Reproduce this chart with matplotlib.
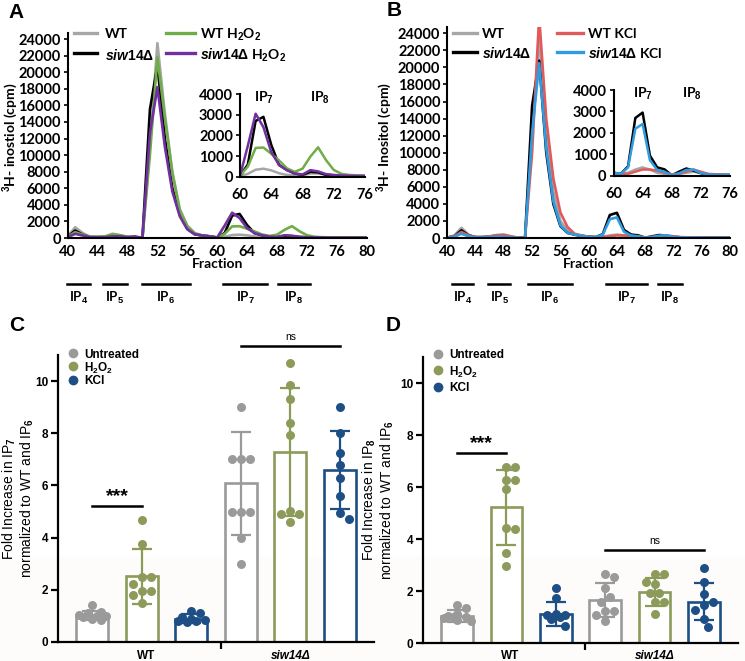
import numpy as np
import matplotlib.pyplot as plt
from matplotlib.lines import Line2D
from matplotlib.patches import Rectangle
from matplotlib import transforms

plt.rcParams['mathtext.fontset'] = 'custom'
plt.rcParams['mathtext.rm'] = 'Liberation Sans:bold'
plt.rcParams['mathtext.bf'] = 'Liberation Sans:bold'
plt.rcParams['mathtext.it'] = 'Liberation Sans:italic:bold'

W, H = 745, 661
AB_FONT = ['Lato', 'DejaVu Sans']
CD_FONT = ['Liberation Sans', 'DejaVu Sans']

# ---------------- data: HPLC profiles (fractions 40..80) ----------------
fractions = np.arange(40, 81)

a_wt = [200, 1300, 600, 150, 100, 150, 400, 300, 100, 100, 0, 11000, 23500, 15000, 8000, 3500, 1500, 600, 300, 200,
        60, 150, 350, 400, 320, 180, 100, 80, 80, 170, 170, 120, 80, 60, 60, 50, 50, 40, 40, 30, 30]
a_siw = [150, 900, 400, 100, 100, 100, 300, 250, 100, 100, 0, 15500, 20800, 12000, 6000, 2800, 1100, 450, 300, 200,
         60, 600, 2700, 2900, 1550, 580, 340, 170, 100, 250, 220, 100, 80, 60, 50, 50, 40, 40, 30, 30, 30]
a_wt_h2o2 = [150, 700, 400, 150, 150, 200, 500, 350, 150, 100, 0, 10000, 21800, 14500, 7800, 3300, 1400, 550, 300, 200,
             60, 500, 1400, 1420, 1120, 800, 420, 250, 400, 980, 1430, 820, 340, 150, 100, 80, 70, 60, 50, 40, 40]
a_siw_h2o2 = [100, 500, 300, 100, 100, 100, 200, 200, 100, 200, 0, 12600, 18200, 11000, 5600, 2600, 1050, 450, 300, 200,
              60, 1500, 3050, 2400, 1200, 580, 330, 170, 120, 330, 270, 140, 100, 70, 60, 50, 50, 40, 40, 30, 30]

b_wt = [50, 300, 1200, 400, 100, 100, 150, 250, 200, 100, 50, 0, 12000, 23500, 12000, 5500, 2000, 900, 400, 250,
        150, 100, 150, 300, 400, 300, 150, 100, 60, 100, 150, 200, 150, 80, 60, 50, 50, 40, 40, 30, 30]
b_siw = [50, 200, 900, 300, 100, 100, 150, 300, 150, 100, 50, 0, 15500, 20800, 10000, 4000, 1400, 600, 400, 250,
         150, 100, 450, 2700, 2950, 950, 400, 310, 30, 200, 350, 250, 130, 80, 60, 50, 50, 40, 40, 30, 30]
b_wt_kcl = [50, 200, 700, 300, 100, 100, 200, 350, 400, 200, 50, 0, 10000, 26000, 14000, 7000, 3000, 1300, 500, 300,
            150, 100, 100, 200, 300, 300, 250, 150, 80, 100, 200, 300, 200, 100, 80, 60, 50, 40, 40, 30, 30]
b_siw_kcl = [50, 150, 500, 200, 100, 100, 100, 200, 150, 100, 50, 0, 12300, 20500, 10500, 4300, 1500, 600, 400, 250,
             150, 100, 400, 2200, 2420, 740, 280, 200, 30, 130, 280, 300, 130, 80, 60, 50, 50, 40, 40, 30, 30]

# ---------------- data: bar charts ----------------
treatments = ['Untreated', 'H$_2$O$_2$', 'KCl']
strains = ['WT', 'siw14Δ']
bar_colors = ['#9a9a9a', '#8c9b5a', '#1d4f86']

ip7_means = [1.02, 2.52, 0.90, 6.08, 7.27, 6.59]
ip7_sd = [0.17, 1.05, 0.18, 1.97, 2.45, 1.50]
ip7_points = [
    [1.43, 1.15, 1.10, 1.05, 1.00, 1.00, 0.95, 0.90, 0.85],
    [4.67, 3.75, 2.49, 2.49, 2.22, 1.95, 1.95, 1.80, 1.49],
    [1.20, 1.10, 0.95, 0.90, 0.85, 0.80, 0.80, 0.75],
    [9.00, 7.00, 7.00, 7.00, 5.00, 5.00, 5.00, 4.00, 3.00],
    [10.68, 9.84, 9.30, 8.40, 7.93, 5.03, 4.90, 4.90, 4.61],
    [9.00, 8.00, 7.25, 6.80, 6.30, 5.60, 4.95, 4.70],
]
ip8_means = [1.04, 5.22, 1.13, 1.65, 1.97, 1.59]
ip8_sd = [0.23, 1.44, 0.46, 0.64, 0.54, 0.71]
ip8_points = [
    [1.45, 1.35, 1.10, 1.05, 1.00, 1.00, 0.95, 0.90, 0.85],
    [6.78, 6.78, 6.27, 6.27, 5.91, 4.44, 4.37, 3.47, 2.96],
    [2.13, 1.72, 1.10, 1.08, 1.08, 1.00, 0.91, 0.67],
    [2.65, 2.53, 2.10, 1.76, 1.59, 1.24, 1.24, 1.08, 0.85],
    [2.65, 2.65, 2.36, 2.26, 1.94, 1.94, 1.59, 1.59, 1.12],
    [2.87, 2.33, 1.88, 1.59, 1.46, 1.27, 0.91, 0.60],
]


def rect(l, t, r, b):
    return [l / W, 1 - b / H, (r - l) / W, (b - t) / H]


def fy(py):
    return 1 - py / H


fig = plt.figure(figsize=(7.45, 6.61), dpi=100)
# faint warm tint at the bottom of the original scan
fig.add_artist(Rectangle((0, 0), 1, fy(557), transform=fig.transFigure, color='#fdfcfa', zorder=-10))


def style_chrom(ax):
    for s in ['top', 'right']:
        ax.spines[s].set_visible(False)
    for s in ['left', 'bottom']:
        ax.spines[s].set_linewidth(1.5)
    ax.tick_params(axis='y', length=3, width=1.2, pad=2)
    ax.tick_params(axis='x', length=0, pad=5)
    for lab in ax.get_xticklabels() + ax.get_yticklabels():
        lab.set_family(AB_FONT)
        lab.set_weight('bold')
        lab.set_size(10.5)
    ax.set_facecolor('none')


def chrom_panel(main_rect, inset_rect, series, colors, ip_ranges, ip_inset_x):
    ax = fig.add_axes(main_rect)
    for ys, c in zip(series, colors):
        ax.plot(fractions, ys, color=c, lw=1.9, solid_joinstyle='round')
    ax.set_xlim(40, 80)
    ax.set_ylim(0, 24700)
    ax.set_xticks(range(40, 81, 4))
    ax.set_yticks(range(0, 24001, 2000))
    style_chrom(ax)
    ax.set_xlabel('Fraction', family=AB_FONT, weight='bold', size=10, labelpad=-1)

    ins = fig.add_axes(inset_rect)
    for ys, c in zip(series, colors):
        ins.plot(fractions, ys, color=c, lw=1.8)
    ins.set_xlim(60, 76)
    ins.set_ylim(0, 4000)
    ins.set_xticks(range(60, 77, 4))
    ins.set_yticks(range(0, 4001, 1000))
    style_chrom(ins)
    ins.tick_params(axis='x', pad=8)
    for lab, xx in zip(['IP$_7$', 'IP$_8$'], ip_inset_x):
        ins.text(xx, 3800, lab, ha='center', va='center', family=AB_FONT, weight='bold', size=10)

    # fraction ranges below the axis
    tr = transforms.blended_transform_factory(ax.transData, fig.transFigure)
    for (x0, x1), n in zip(ip_ranges, [4, 5, 6, 7, 8]):
        ax.add_line(Line2D([x0, x1], [fy(284), fy(284)], transform=tr, color='black', lw=1.8, clip_on=False))
        ax.text((x0 + x1) / 2, fy(298), 'IP$_%d$' % n, transform=tr, ha='center', va='center',
                family=AB_FONT, weight='bold', size=9.5)
    return ax


def chrom_legend(labels, colors, xl, xt, rows):
    for i, (lab, c) in enumerate(zip(labels, colors)):
        col, row = divmod(i, 2)
        y = fy(rows[row])
        fig.add_artist(Line2D([xl[col][0] / W, xl[col][1] / W], [y, y], color=c, lw=2.4))
        fig.text(xt[col] / W, y, lab, ha='left', va='center_baseline', family=AB_FONT, weight='bold', size=10)


# Panel A
colors_a = ['#a6a6a6', 'black', '#70ad47', '#7030a0']
chrom_panel(rect(67.7, 33.2, 366.7, 238), rect(240, 94, 365, 177),
            [a_wt, a_siw, a_wt_h2o2, a_siw_h2o2], colors_a,
            [(39.9, 43.0), (44.7, 47.9), (49.9, 56.4), (60.8, 66.7), (68.1, 72.4)], [63, 70.2])
fig.text(10 / W, fy(137), '$^3$H- inostiol (cpm)', rotation=90, ha='center', va='center',
         family=AB_FONT, weight='bold', size=10)
chrom_legend(['WT', r'$\mathit{siw14\Delta}$', 'WT H$_2$O$_2$', r'$\mathit{siw14\Delta}$ H$_2$O$_2$'],
             colors_a, [(74, 97), (166, 195)], [105, 200], [33, 53])

# Panel B
colors_b = ['#a6a6a6', 'black', '#e05a5a', '#2f9be0']
chrom_panel(rect(447.3, 27.3, 730, 238), rect(613.5, 90, 730, 176),
            [b_wt, b_siw, b_wt_kcl, b_siw_kcl], colors_b,
            [(40.7, 43.6), (45.8, 48.9), (51.4, 57.6), (62.4, 68.2), (69.8, 73.2)], [64, 70.8])
fig.text(384 / W, fy(137), '$^3$H- Inositol (cpm)', rotation=90, ha='center', va='center',
         family=AB_FONT, weight='bold', size=10)
chrom_legend(['WT', r'$\mathit{siw14\Delta}$', 'WT KCl', r'$\mathit{siw14\Delta}$ KCl'],
             colors_b, [(453, 477), (557, 583)], [482, 588], [33, 52])


# ---------------- bar panels ----------------
def swarm(vals, center, px_x, px_y, diam=9.0):
    placed = []
    xs = []
    step = diam / 2
    for v in vals:
        best, best_d = 0, -1
        for k in [0, 1, -1, 2, -2, 3, -3]:
            off = k * step
            d = min([np.hypot(off - ox, (v - oy) * px_y) for ox, oy in placed] or [1e9])
            if d >= diam:
                best = off
                break
            if d > best_d:
                best, best_d = off, d
        placed.append((best, v))
        xs.append(center + best / px_x)
    return xs


def bar_panel(r, means, sds, points, ylabel, label_x, sig, ns, leg_rows, xpad):
    ax = fig.add_axes(r)
    ax.set_facecolor('none')
    xpos = np.arange(6)
    cols = bar_colors * 2
    px_x = (r[2] * W) / 6.38
    px_y = (r[3] * H) / 11
    for x, m, s, pts, c in zip(xpos, means, sds, points, cols):
        ax.bar(x, m, width=0.64, color='white', edgecolor=c, linewidth=1.9, zorder=2)
        ax.scatter(swarm(pts, x, px_x, px_y), pts, s=42, color=c, zorder=3, linewidths=0)
        ax.errorbar(x, m, yerr=s, color=c, capsize=7, capthick=1.6, elinewidth=1.6, zorder=4)
    ax.set_xlim(-0.69, 5.69)
    ax.set_ylim(0, 11)
    ax.set_yticks(range(0, 11, 2))
    for sp in ['top', 'right']:
        ax.spines[sp].set_visible(False)
    for sp in ['left', 'bottom']:
        ax.spines[sp].set_linewidth(1.6)
    ax.tick_params(axis='y', length=5, width=1.6, pad=2)
    ax.set_xticks([1.08, 2.6, 4])
    ax.set_xticklabels(['WT', '', 'siw14Δ'])
    ax.tick_params(axis='x', length=5, width=1.6, pad=xpad)
    ax.xaxis.get_major_ticks()[0].tick1line.set_visible(False)
    ax.xaxis.get_major_ticks()[2].tick1line.set_visible(False)
    for lab in ax.get_xticklabels() + ax.get_yticklabels():
        lab.set_family(CD_FONT)
        lab.set_weight('bold')
        lab.set_size(8.5)
    ax.get_xticklabels()[2].set_style('italic')
    ax.set_ylabel(ylabel, family=CD_FONT, size=10, linespacing=1.05)
    ax.yaxis.set_label_coords(label_x, 0.5)

    ax.plot([0, 1], [sig, sig], color='black', lw=1.8, clip_on=False)
    ax.text(0.5, sig + 0.02, '***', ha='center', va='bottom', family=CD_FONT, weight='bold', size=14)
    ax.plot([3, 5], [ns, ns], color='black', lw=1.8, clip_on=False)
    ax.text(4, ns + 0.15, 'ns', ha='center', va='bottom', family=CD_FONT, size=7.5)

    lx = r[0] + 15 / W
    for c, lab, yy in zip(bar_colors, treatments, leg_rows):
        ax.add_line(Line2D([lx], [fy(yy)], transform=fig.transFigure, marker='o', ls='', color=c,
                           markersize=6, clip_on=False))
        fig.text(lx + 11 / W, fy(yy), lab, ha='left', va='center_baseline', family=CD_FONT,
                 weight='bold', size=8.5)
    return ax


bar_panel(rect(58, 355, 374, 642), ip7_means, ip7_sd, ip7_points,
          'Fold Increase in IP$_7$\nnormalized to WT and IP$_6$', -0.07, 5.22, 11.34, [353, 366, 380], 1)
bar_panel(rect(423, 357, 738, 643), ip8_means, ip8_sd, ip8_points,
          'Fold Increase in IP$_8$\nnormalized to WT and IP$_6$', -0.086, 7.32, 3.58, [354, 370, 387], 0)

for lab, x, y in [('A', 16, 12), ('B', 394, 11), ('C', 17, 326), ('D', 393, 326)]:
    fig.text(x / W, fy(y), lab, ha='center', va='center', family=CD_FONT, weight='bold', size=15)

fig.savefig('out.png', dpi=100)
